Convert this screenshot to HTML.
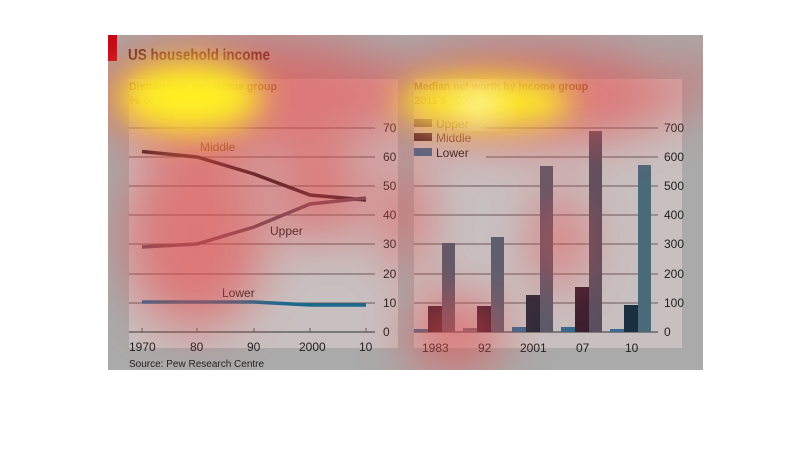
<!DOCTYPE html>
<html><head><meta charset="utf-8"><style>
body{margin:0;background:#fff;width:810px;height:464px;overflow:hidden;font-family:"Liberation Sans",sans-serif}
</style></head><body>
<svg width="810" height="464" viewBox="0 0 810 464" xmlns="http://www.w3.org/2000/svg" font-family="Liberation Sans, sans-serif">
<defs>
<filter id="b1" x="-50%" y="-50%" width="200%" height="200%"><feGaussianBlur stdDeviation="25"/></filter>
<filter id="b2" x="-50%" y="-50%" width="200%" height="200%"><feGaussianBlur stdDeviation="16"/></filter>
<clipPath id="c"><rect x="108" y="35" width="595" height="335"/></clipPath>
</defs>
<rect x="108" y="35" width="595" height="335" fill="#aaaaaa"/>
<rect x="108" y="35" width="9" height="26" fill="#c00010"/>
<text x="128" y="60" font-size="16" font-weight="bold" fill="#4a1a1a" textLength="142" lengthAdjust="spacingAndGlyphs">US household income</text>
<rect x="129" y="79" width="269" height="269" fill="#c8c0c0"/>
<text x="129" y="90" font-size="11" font-weight="bold" fill="#7a4a2a" textLength="148" lengthAdjust="spacingAndGlyphs">Distribution by income group</text>
<text x="129" y="104" font-size="11" fill="#7a5a2a" textLength="52" lengthAdjust="spacingAndGlyphs">% of total</text>
<g stroke="#6a5a5a" stroke-width="1">
<line x1="129" y1="128" x2="375" y2="128"/><line x1="129" y1="157" x2="375" y2="157"/>
<line x1="129" y1="186" x2="375" y2="186"/><line x1="129" y1="215" x2="375" y2="215"/>
<line x1="129" y1="244" x2="375" y2="244"/><line x1="129" y1="274" x2="375" y2="274"/>
<line x1="129" y1="303" x2="375" y2="303"/><line x1="129" y1="332" x2="375" y2="332" stroke="#333"/>
<line x1="142" y1="328" x2="142" y2="332"/><line x1="197" y1="328" x2="197" y2="332"/><line x1="254" y1="328" x2="254" y2="332"/><line x1="310" y1="328" x2="310" y2="332"/><line x1="366" y1="328" x2="366" y2="332"/>
</g>
<g font-size="12" fill="#222">
<text x="383" y="132">70</text><text x="383" y="161">60</text><text x="383" y="190">50</text><text x="383" y="219">40</text><text x="383" y="248">30</text><text x="383" y="278">20</text><text x="383" y="307">10</text><text x="383" y="336">0</text>
<text x="129" y="351">1970</text><text x="190" y="351">80</text><text x="247" y="351">90</text><text x="299" y="351">2000</text><text x="359" y="351">10</text>
<text x="129" y="367" font-size="10">Source: Pew Research Centre</text>
<text x="200" y="151" fill="#6a4a2a">Middle</text><text x="270" y="235">Upper</text><text x="222" y="297">Lower</text>
</g>
<polyline points="142,151.5 197,157 254,174 310,195 366,200" fill="none" stroke="#1a1520" stroke-width="3.5"/>
<polyline points="142,247 197,244 254,227 310,204 366,198" fill="none" stroke="#5a4858" stroke-width="3.5"/>
<polyline points="142,302 197,302 254,302 310,305 366,305" fill="none" stroke="#1a6a90" stroke-width="3.5"/>
<rect x="414" y="79" width="268" height="269" fill="#c8c0c0"/>
<text x="414" y="90" font-size="11" font-weight="bold" fill="#7a4a2a" textLength="174" lengthAdjust="spacingAndGlyphs">Median net worth by income group</text>
<text x="414" y="104" font-size="11" fill="#7a5a2a">2011 $, '000</text>
<g stroke="#6a5a5a" stroke-width="1">
<line x1="486" y1="128" x2="658" y2="128"/><line x1="486" y1="157" x2="658" y2="157"/>
<line x1="414" y1="186" x2="658" y2="186"/><line x1="414" y1="215" x2="658" y2="215"/>
<line x1="414" y1="244" x2="658" y2="244"/><line x1="414" y1="274" x2="658" y2="274"/>
<line x1="414" y1="303" x2="658" y2="303"/><line x1="414" y1="332" x2="658" y2="332" stroke="#333"/>
</g>
<rect x="414" y="119" width="18" height="8" fill="#6a5a60"/><rect x="414" y="133" width="18" height="8" fill="#3a2030"/><rect x="414" y="148" width="18" height="8" fill="#3a6a90"/>
<g font-size="12" fill="#222">
<text x="436" y="128" fill="#7a6040">Upper</text><text x="436" y="142" fill="#6a3a3a">Middle</text><text x="436" y="157">Lower</text>
<text x="664" y="132">700</text><text x="664" y="161">600</text><text x="664" y="190">500</text><text x="664" y="219">400</text><text x="664" y="248">300</text><text x="664" y="278">200</text><text x="664" y="307">100</text><text x="664" y="336">0</text>
<text x="422" y="352">1983</text><text x="478" y="352">92</text><text x="520" y="352">2001</text><text x="576" y="352">07</text><text x="625" y="352">10</text>
</g>
<g>
<rect x="414" y="329" width="14" height="3" fill="#3a6a90"/><rect x="428" y="306" width="14" height="26" fill="#3a2030"/><rect x="442" y="243" width="13" height="89" fill="#5a5a6a"/>
<rect x="463" y="328" width="14" height="4" fill="#6a7080"/><rect x="477" y="306" width="14" height="26" fill="#3a2030"/><rect x="491" y="237" width="13" height="95" fill="#5a6070"/>
<rect x="512" y="327" width="14" height="5" fill="#3a6a90"/><rect x="526" y="295" width="14" height="37" fill="#2a2a3a"/><rect x="540" y="166" width="13" height="166" fill="#5a5a6a"/>
<rect x="561" y="327" width="14" height="5" fill="#3a6a90"/><rect x="575" y="287" width="14" height="45" fill="#3a2030"/><rect x="589" y="131" width="13" height="201" fill="#5a5060"/>
<rect x="610" y="329" width="14" height="3" fill="#3a6a90"/><rect x="624" y="305" width="14" height="27" fill="#1a3040"/><rect x="638" y="165" width="13" height="167" fill="#4a6a7a"/>
</g>
<g clip-path="url(#c)">
<g filter="url(#b1)" fill="#ea4848" opacity="0.6">
<ellipse cx="250" cy="95" rx="165" ry="60"/>
<ellipse cx="530" cy="95" rx="150" ry="50"/>
<ellipse cx="195" cy="235" rx="70" ry="95"/>
<ellipse cx="320" cy="195" rx="45" ry="45"/>
<ellipse cx="405" cy="215" rx="22" ry="60"/>
<ellipse cx="455" cy="335" rx="50" ry="40"/>
<ellipse cx="560" cy="240" rx="25" ry="50"/>
<ellipse cx="700" cy="80" rx="15" ry="30"/>
</g>
<g filter="url(#b2)" fill="#fff020" opacity="1">
<ellipse cx="190" cy="97" rx="72" ry="36"/>
<ellipse cx="485" cy="102" rx="88" ry="25"/>
</g>
<g filter="url(#b2)" fill="#ffffe8" opacity="0.9">
<ellipse cx="478" cy="105" rx="20" ry="13"/>
</g>
</g>
</svg>
</body></html>
